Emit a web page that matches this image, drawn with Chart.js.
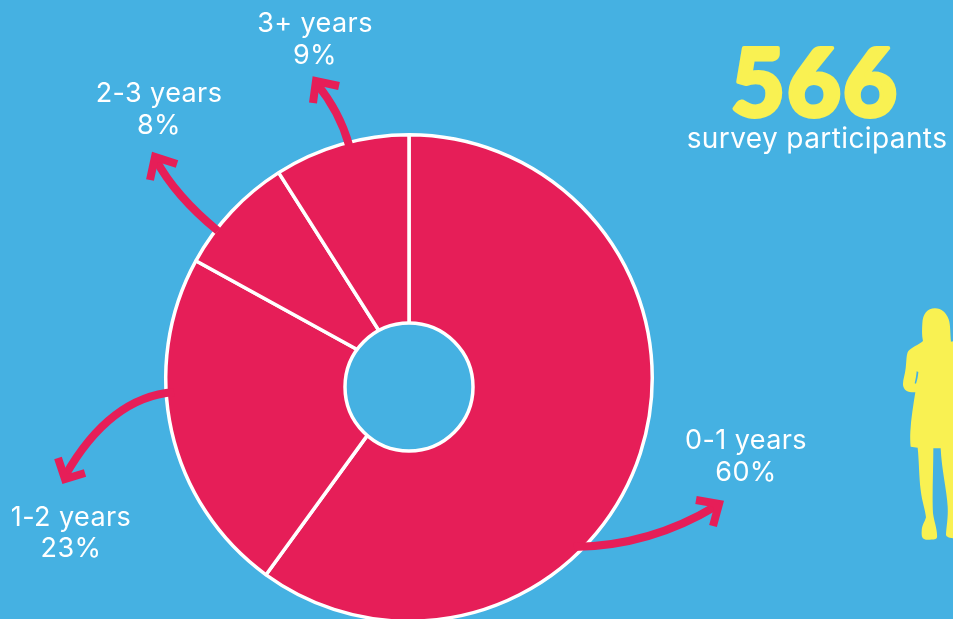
<!DOCTYPE html>
<html>
<head>
<meta charset="utf-8">
<style>
  html, body { margin: 0; height: 100%; overflow: hidden; background: #45b1e2; }
  canvas { display: block; }
</style>
<script src="https://cdn.jsdelivr.net/npm/chart.js@4"></script>
</head>
<body>
<canvas id="chart" width="953" height="640"></canvas>
<script>
const categories = ['0-1 years', '1-2 years', '2-3 years', '3+ years'];
const shares = [60, 23, 8, 9];
const participants = '566';
const participantsCaption = 'survey participants';

const BLUE = '#45b1e2';
const RED = '#e61e58';
const YELLOW = '#f9f152';
const FONT = 'Inter, sans-serif';

// where each slice's caption sits: centre x, first and second baselines
const captionAt = [[746, 449, 481], [71, 526, 557], [159, 102, 134], [315, 32, 64]];

// curved arrows from the ring out to the captions: bezier shaft, then head arms
const arrows = [
  { shaft: [574, 547, 650, 546, 716, 506], head: [696, 500, 719, 504, 713, 526] },
  { shaft: [174, 392, 125, 396, 90, 432, 65, 476], head: [58, 458, 65, 479, 85, 473] },
  { shaft: [218, 231, 190, 208, 170, 186, 156, 160], head: [177, 164, 155, 157, 150, 180] },
  { shaft: [349, 145, 342, 120, 330, 100, 317, 84], head: [339, 86, 316, 81, 313, 103] }
];

// standing figure on the right, cut off by the page edge
const figure = new Path2D('M255 55C232 55 218 72 217 100C216 120 215 135 219 153C205 165 185 172 175 183C168 195 170 215 167 235C165 255 158 270 159 285C161 302 175 308 196 307C190 345 183 385 181 425C180 445 181 460 182 470L203 473C207 510 207 560 212 600C216 635 226 660 228 682C224 697 215 705 215 725C214 742 218 749 232 749C245 749 260 750 261 742C263 720 252 695 249 670C246 620 250 540 250 475L272 475C275 540 290 600 293 650C295 685 288 715 288 735C290 742 300 745 330 747L330 150L303 155C300 130 302 105 296 88C288 68 275 55 255 55Z');
const figureGap = new Path2D('M200 244L205 246C204 258 202 270 198 281L194 280C197 268 199 255 200 244Z');

const decorations = {
  id: 'decorations',
  afterDraw(chart) {
    const ctx = chart.ctx;
    ctx.save();

    // the hole sits a little below the centre the slices meet at
    ctx.beginPath();
    ctx.arc(409, 387, 64, 0, Math.PI * 2);
    ctx.fillStyle = BLUE;
    ctx.fill();
    ctx.strokeStyle = '#fff';
    ctx.lineWidth = 3.5;
    ctx.stroke();

    // arrows
    ctx.strokeStyle = RED;
    ctx.lineWidth = 8;
    ctx.lineJoin = 'miter';
    ctx.miterLimit = 10;
    arrows.forEach(a => {
      const s = a.shaft;
      ctx.beginPath();
      ctx.moveTo(s[0], s[1]);
      if (s.length === 6) ctx.quadraticCurveTo(s[2], s[3], s[4], s[5]);
      else ctx.bezierCurveTo(s[2], s[3], s[4], s[5], s[6], s[7]);
      ctx.stroke();
      const h = a.head;
      ctx.beginPath();
      ctx.moveTo(h[0], h[1]);
      ctx.lineTo(h[2], h[3]);
      ctx.lineTo(h[4], h[5]);
      ctx.stroke();
    });

    // slice captions
    ctx.fillStyle = '#fff';
    ctx.textAlign = 'center';
    ctx.textBaseline = 'alphabetic';
    ctx.font = '400 27px ' + FONT;
    ctx.letterSpacing = '0.4px';
    categories.forEach((name, i) => {
      const [x, y1, y2] = captionAt[i];
      ctx.fillText(name, x, y1);
      ctx.fillText(shares[i] + '%', x, y2);
    });
    ctx.font = '400 28px ' + FONT;
    ctx.fillText(participantsCaption, 817, 148);

    // headline number, thickened with a stroke
    ctx.fillStyle = YELLOW;
    ctx.strokeStyle = YELLOW;
    ctx.lineWidth = 4;
    ctx.lineJoin = 'round';
    ctx.letterSpacing = '2px';
    ctx.font = '900 93px Lato, sans-serif';
    ctx.fillText(participants, 815, 116);
    ctx.strokeText(participants, 815, 116);

    // figure
    ctx.translate(850, 290);
    ctx.scale(1 / 3, 1 / 3);
    ctx.fillStyle = YELLOW;
    ctx.fill(figure);
    ctx.fillStyle = BLUE;
    ctx.fill(figureGap);
    ctx.restore();
  }
};

new Chart(document.getElementById('chart'), {
  type: 'doughnut',
  data: {
    labels: categories,
    datasets: [{
      data: shares,
      backgroundColor: RED,
      borderColor: '#fff',
      borderWidth: 3.5,
      borderAlign: 'center'
    }]
  },
  options: {
    responsive: false,
    animation: false,
    cutout: 40,
    layout: { padding: { left: 164, right: 299, top: 133, bottom: 17 } },
    plugins: { legend: { display: false }, tooltip: { enabled: false } }
  },
  plugins: [decorations]
});
</script>
</body>
</html>
